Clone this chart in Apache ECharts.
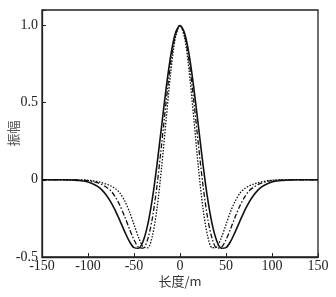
<!DOCTYPE html>
<html>
<head>
<meta charset="utf-8">
<script src="https://cdn.jsdelivr.net/npm/echarts@6/dist/echarts.min.js"></script>
<style>
  html, body { margin: 0; padding: 0; background: #fff; }
  #chart { width: 336px; height: 297px; }
</style>
</head>
<body>
<div id="chart"></div>
<script>
const xs = [-150,-145,-140,-135,-130,-125,-120,-115,-110,-105,-100,-95,-90,-85,-80,-75,-70,-65,-60,-55,-50,-45,-40,-35,-30,-25,-20,-15,-10,-5,
  0,5,10,15,20,25,30,35,40,45,50,55,60,65,70,75,80,85,90,95,100,105,110,115,120,125,130,135,140,145,150];

// solid curve
const solid = [0,0,0,0,0,0,-0.001,-0.002,-0.004,-0.008,-0.014,-0.025,-0.041,-0.065,-0.100,-0.146,-0.203,-0.269,-0.337,-0.399,-0.439,-0.443,-0.396,-0.289,-0.121,0.099,0.348,0.596,0.808,0.950,
  1,
  0.950,0.808,0.596,0.348,0.099,-0.121,-0.289,-0.396,-0.443,-0.439,-0.399,-0.337,-0.269,-0.203,-0.146,-0.100,-0.065,-0.041,-0.025,-0.014,-0.008,-0.004,-0.002,-0.001,0,0,0,0,0,0];

// dash-dot curve
const dashDot = [0,0,0,0,0,0,0,0,-0.001,-0.002,-0.005,-0.010,-0.018,-0.030,-0.048,-0.072,-0.114,-0.170,-0.240,-0.317,-0.388,-0.437,-0.442,-0.382,-0.247,-0.037,0.228,0.510,0.762,0.937,
  1,
  0.937,0.762,0.510,0.228,-0.037,-0.247,-0.382,-0.442,-0.437,-0.388,-0.317,-0.240,-0.170,-0.114,-0.072,-0.048,-0.030,-0.018,-0.010,-0.005,-0.002,-0.001,0,0,0,0,0,0,0,0];

// dotted curve
const dotted = [0,0,0,0,0,0,0,0,0,-0.001,-0.003,-0.006,-0.011,-0.018,-0.028,-0.040,-0.058,-0.088,-0.138,-0.206,-0.289,-0.374,-0.434,-0.440,-0.363,-0.186,0.080,0.396,0.700,0.920,
  1,
  0.920,0.700,0.396,0.080,-0.186,-0.363,-0.440,-0.434,-0.374,-0.289,-0.206,-0.138,-0.088,-0.058,-0.040,-0.028,-0.018,-0.011,-0.006,-0.003,-0.001,0,0,0,0,0,0,0,0,0];

const serif = '"Liberation Serif", "DejaVu Serif", serif';
const cjk = '"Noto Sans CJK SC", sans-serif';
const ink = '#111';

const chart = echarts.init(document.getElementById('chart'), null, { renderer: 'canvas' });

const mk = (name, vals, type, width) => ({
  type: 'line',
  name: name,
  data: xs.map((x, i) => [x, vals[i]]),
  showSymbol: false,
  smooth: 0.3,
  silent: true,
  lineStyle: { color: ink, width: width, type: type }
});

chart.setOption({
  animation: false,
  grid: {
    left: 42, right: 18, top: 10, bottom: 40,
    containLabel: false,
    outerBoundsMode: 'none',
    show: true, borderColor: '#222', borderWidth: 1.3, backgroundColor: 'transparent'
  },
  xAxis: {
    type: 'value',
    min: -150, max: 150, interval: 50,
    name: '长度/m',
    nameLocation: 'middle',
    nameGap: 18,
    nameMoveOverlap: false,
    nameTextStyle: { fontFamily: cjk, fontSize: 13, color: '#333' },
    axisLine: { show: true, onZero: false, lineStyle: { color: '#222', width: 1.3 } },
    axisTick: { show: true, inside: true, length: 4, lineStyle: { color: '#222' } },
    axisLabel: { fontFamily: serif, fontSize: 14, color: '#222', margin: 2, hideOverlap: false },
    splitLine: { show: false }
  },
  yAxis: {
    type: 'value',
    min: -0.5, max: 1.1, interval: 0.5,
    name: '振幅',
    nameLocation: 'middle',
    nameGap: 22,
    nameRotate: 90,
    nameMoveOverlap: false,
    nameTextStyle: { fontFamily: cjk, fontSize: 13, color: '#555' },
    axisLine: { show: true, onZero: false, lineStyle: { color: '#222', width: 1.3 } },
    axisTick: { show: true, inside: true, length: 4, lineStyle: { color: '#222' } },
    axisLabel: {
      fontFamily: serif, fontSize: 14, color: '#222', margin: 4,
      formatter: v => (Math.abs(v - 1.1) < 1e-6 ? '' : (v === 0 ? '0' : v.toFixed(1)))
    },
    splitLine: { show: false }
  },
  series: [
    mk('dotted', dotted, [1.5, 1.5], 1.3),
    mk('dashDot', dashDot, [5, 2, 1.5, 2], 1.3),
    mk('solid', solid, 'solid', 1.6)
  ]
});
</script>
</body>
</html>
